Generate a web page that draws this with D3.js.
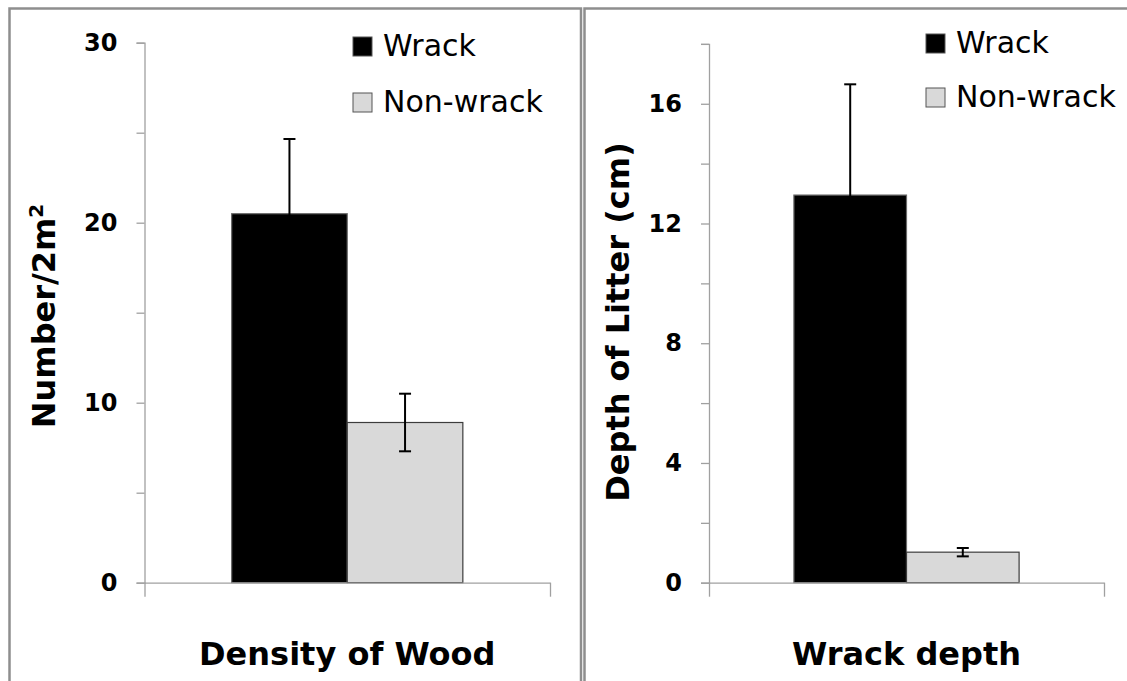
<!DOCTYPE html>
<html>
<head>
<meta charset="utf-8">
<script src="https://cdn.jsdelivr.net/npm/d3@7"></script>
<style>
  html, body { margin: 0; padding: 0; background: #ffffff; }
  svg { display: block; }
  .title { font-family: "Comic Sans MS", "DejaVu Sans", sans-serif; font-weight: bold; font-size: 32px; fill: #000; }
  .legend text { font-family: "Comic Sans MS", "DejaVu Sans", sans-serif; font-size: 30px; fill: #000; }
</style>
</head>
<body>
<svg id="chart" width="1127" height="681"></svg>
<script>
// Series shared by both panels
const seriesNames = ["Wrack", "Non-wrack"];
const seriesColors = ["#000000", "#d9d9d9"];

// Panel 1: wood density
const woodCategories = ["Density of Wood"];
const woodMeans = [20.5, 8.9];
const woodErrors = [4.15, 1.6];
const woodTicks = [0, 5, 10, 15, 20, 25, 30];
const woodTickLabels = [0, 10, 20, 30];
const woodYLabel = "Number/2m";
const woodYLabelSup = "2";

// Panel 2: litter depth
const depthCategories = ["Wrack depth"];
const depthMeans = [12.95, 1.02];
const depthErrors = [3.7, 0.14];
const depthTicks = [0, 2, 4, 6, 8, 10, 12, 14, 16, 18];
const depthTickLabels = [0, 4, 8, 12, 16];
const depthYLabel = "Depth of Litter (cm)";

const svg = d3.select("#chart");
svg.append("rect").attr("width", 1127).attr("height", 681).attr("fill", "#fff");

// Panel frames
const frameColor = "#8e8e8e";
svg.append("rect")
  .attr("x", 9.5).attr("y", 8.5).attr("width", 571.5).attr("height", 700)
  .attr("fill", "none").attr("stroke", frameColor).attr("stroke-width", 2.5);
svg.append("rect")
  .attr("x", 584.5).attr("y", 8.5).attr("width", 600).attr("height", 700)
  .attr("fill", "none").attr("stroke", frameColor).attr("stroke-width", 2.5);

function drawPanel(cfg) {
  const g = svg.append("g");

  const y = d3.scaleLinear().domain(cfg.domain).range([cfg.y0, cfg.y1]);

  // category band across the x axis, series bands inside it
  const x0 = d3.scaleBand().domain(cfg.categories).range([cfg.xa, cfg.xb])
    .paddingInner(0).paddingOuter(0.377);
  const x1 = d3.scaleBand().domain(seriesNames).range([0, x0.bandwidth()]).padding(0);
  const color = d3.scaleOrdinal().domain(seriesNames).range(seriesColors);

  const rows = seriesNames.map((s, i) => ({
    cat: cfg.categories[0], series: s, mean: cfg.means[i], err: cfg.errors[i]
  }));

  // bars
  g.selectAll("rect.bar").data(rows).join("rect")
    .attr("class", "bar")
    .attr("x", d => x0(d.cat) + x1(d.series))
    .attr("width", x1.bandwidth())
    .attr("y", d => y(d.mean))
    .attr("height", d => y(0) - y(d.mean))
    .attr("fill", d => color(d.series))
    .attr("stroke", d => d.series === "Wrack" ? "#6a6a6a" : "#3c3c3c")
    .attr("stroke-width", 1.2);

  // y axis
  const yAxis = d3.axisLeft(y)
    .tickValues(cfg.ticks)
    .tickSize(8)
    .tickPadding(19)
    .tickFormat(v => cfg.tickLabels.includes(v) ? d3.format("d")(v) : "");
  const ya = g.append("g").attr("transform", `translate(${cfg.xa},0)`).call(yAxis);
  ya.select(".domain").attr("stroke", "#a0a0a0").attr("stroke-width", 1.3);
  ya.selectAll(".tick line").attr("stroke", "#a0a0a0").attr("stroke-width", 1.3);
  ya.selectAll(".tick text")
    .style("font-family", "'Comic Sans MS', 'DejaVu Sans', sans-serif")
    .style("font-weight", "bold")
    .style("font-size", "24px")
    .style("fill", "#000");

  // x axis: end ticks at the category boundaries
  const xEdge = d3.scaleLinear().domain([0, 1]).range([cfg.xa, cfg.xb]);
  const xa = g.append("g").attr("transform", `translate(0,${y(0)})`)
    .call(d3.axisBottom(xEdge).tickValues([0, 1]).tickSize(14).tickSizeOuter(0).tickFormat(""));
  xa.select(".domain").attr("stroke", "#a0a0a0").attr("stroke-width", 1.3);
  xa.selectAll(".tick line").attr("stroke", "#a0a0a0").attr("stroke-width", 1.3);

  // error bars
  const cap = 6;
  const eb = g.selectAll("g.err").data(rows).join("g").attr("class", "err")
    .attr("stroke", "#000").attr("stroke-width", 2);
  eb.append("line")
    .attr("x1", d => x0(d.cat) + x1(d.series) + x1.bandwidth() / 2)
    .attr("x2", d => x0(d.cat) + x1(d.series) + x1.bandwidth() / 2)
    .attr("y1", d => y(d.mean - d.err)).attr("y2", d => y(d.mean + d.err));
  [1, -1].forEach(sgn => {
    eb.append("line")
      .attr("x1", d => x0(d.cat) + x1(d.series) + x1.bandwidth() / 2 - cap)
      .attr("x2", d => x0(d.cat) + x1(d.series) + x1.bandwidth() / 2 + cap)
      .attr("y1", d => y(d.mean + sgn * d.err)).attr("y2", d => y(d.mean + sgn * d.err));
  });

  // x title
  g.append("text").attr("class", "title")
    .attr("x", x0(cfg.categories[0]) + x0.bandwidth() / 2)
    .attr("y", 665)
    .attr("text-anchor", "middle")
    .text(cfg.categories[0]);

  // y title
  const yt = g.append("text").attr("class", "title")
    .attr("transform", `translate(${cfg.yTitleX},${cfg.yTitleY}) rotate(-90)`)
    .attr("text-anchor", "middle");
  yt.append("tspan").text(cfg.yLabel);
  if (cfg.yLabelSup) {
    yt.append("tspan").attr("dy", -12).attr("font-size", 20).text(cfg.yLabelSup);
  }

  // legend
  const lg = g.append("g").attr("class", "legend");
  seriesNames.forEach((s, i) => {
    const top = cfg.legendY + i * cfg.legendStep;
    lg.append("rect")
      .attr("x", cfg.legendX).attr("y", top)
      .attr("width", 19).attr("height", 19)
      .attr("fill", color(s)).attr("stroke", "#555").attr("stroke-width", 1);
    lg.append("text")
      .attr("x", cfg.legendX + 30).attr("y", top + 19)
      .text(s);
  });
}

drawPanel({
  categories: woodCategories, means: woodMeans, errors: woodErrors,
  domain: [0, 30], ticks: woodTicks, tickLabels: woodTickLabels,
  xa: 144.5, xb: 550, y0: 582.7, y1: 42.7,
  yLabel: woodYLabel, yLabelSup: woodYLabelSup, yTitleX: 55, yTitleY: 316,
  legendX: 353, legendY: 37, legendStep: 56
});

drawPanel({
  categories: depthCategories, means: depthMeans, errors: depthErrors,
  domain: [0, 18], ticks: depthTicks, tickLabels: depthTickLabels,
  xa: 709, xb: 1104, y0: 582.7, y1: 43.9,
  yLabel: depthYLabel, yTitleX: 629, yTitleY: 322,
  legendX: 926, legendY: 34, legendStep: 54
});
</script>
</body>
</html>
